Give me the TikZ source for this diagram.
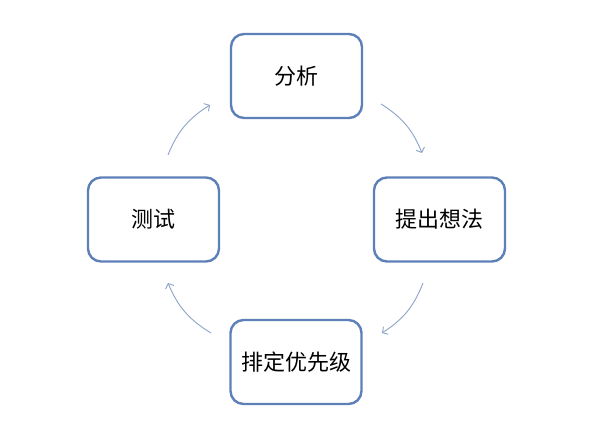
\documentclass[tikz,border=0pt]{standalone}
\usepackage{fontspec}
\newfontfamily\cjk{Noto Sans CJK SC}
\usetikzlibrary{arrows.meta}
\definecolor{boxblue}{RGB}{94,128,184}
\definecolor{arrowblue}{RGB}{140,164,200}
\tikzset{
  stepbox/.style={draw=boxblue, line width=2.4pt, rounded corners=13pt,
    minimum width=131pt, minimum height=84pt, fill=white,
    font=\cjk\fontsize{22pt}{26pt}\selectfont, text=black, inner sep=0pt},
  flow/.style={draw=arrowblue, line width=0.9pt,
    -{Straight Barb[length=4pt,width=9pt]}, bend left=18}
}
\begin{document}
\begin{tikzpicture}[x=1pt,y=1pt]
\useasboundingbox (0,0) rectangle (600,443);
\fill[white] (0,0) rectangle (600,443);
\node[stepbox] (fx) at (296.5,367) {分析};
\node[stepbox] (tc) at (439.5,223.5) {提出想法};
\node[stepbox] (cs) at (153.5,223.5) {测试};
\node[stepbox] (pd) at (296,81) {排定优先级};
\coordinate (a1s) at (381,339);
\coordinate (a1e) at (422,290);
\coordinate (a2s) at (423,160);
\coordinate (a2e) at (382,110);
\coordinate (a3s) at (211,110);
\coordinate (a3e) at (168,160);
\coordinate (a4s) at (168,288);
\coordinate (a4e) at (210,338);
\draw[flow] (a1s) to (a1e);
\draw[flow] (a2s) to (a2e);
\draw[flow] (a3s) to (a3e);
\draw[flow] (a4s) to (a4e);
\end{tikzpicture}
\end{document}
